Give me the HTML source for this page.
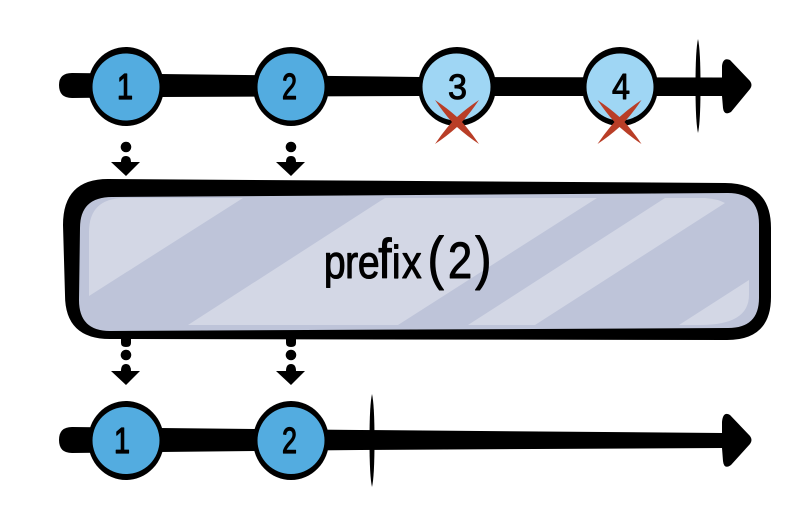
<!DOCTYPE html>
<html><head><meta charset="utf-8"><style>
html,body{margin:0;padding:0;background:#fff;width:812px;height:506px;overflow:hidden}
svg{display:block}
text{font-family:"Liberation Sans",sans-serif;fill:#000;stroke:#000;stroke-linejoin:round}
</style></head><body>
<svg width="812" height="506" viewBox="0 0 812 506" xmlns="http://www.w3.org/2000/svg">
<rect width="812" height="506" fill="#fff"/>
<!-- top line -->
<path d="M72,73 L160,74 L420,77 L722,77.500 L722,66 Q723,57 730,60 L750,81 Q753,85 750,89 L731,112 Q724,116 723,108 L722,96 L420,96 L160,97 L72,98 Q59,98 59,85 Q59,73 72,73Z" fill="#000"/>
<path d="M698,39 Q700.500,50 700.500,86 Q700.500,122 698,133 Q695.500,122 695.500,86 Q695.500,50 698,39Z" fill="#000"/>
<ellipse cx="126" cy="86.500" rx="38" ry="39.500" fill="#000"/>
<ellipse cx="126" cy="87" rx="33.500" ry="33.500" fill="#53ACE0"/>
<ellipse cx="291" cy="86.500" rx="38" ry="39.500" fill="#000"/>
<ellipse cx="291" cy="87" rx="33.500" ry="33.500" fill="#53ACE0"/>
<ellipse cx="457" cy="86.500" rx="39" ry="39.500" fill="#000"/>
<ellipse cx="456.500" cy="87" rx="34" ry="33.500" fill="#9FD6F4"/>
<ellipse cx="620" cy="86.500" rx="38" ry="39.500" fill="#000"/>
<ellipse cx="620" cy="87" rx="33.500" ry="33.500" fill="#9FD6F4"/>
<text x="117" y="99" font-size="36" textLength="16" lengthAdjust="spacingAndGlyphs" stroke-width="1.300">1</text>
<text x="282" y="99" font-size="36" textLength="15" lengthAdjust="spacingAndGlyphs" stroke-width="1.200">2</text>
<text x="448" y="99" font-size="35" textLength="19" lengthAdjust="spacingAndGlyphs" stroke-width="1">3</text>
<text x="612" y="99" font-size="36" textLength="18" lengthAdjust="spacingAndGlyphs" stroke-width="1">4</text>
<!-- red crosses -->
<g fill="#B93E27">
<path d="M435,100 Q447,108 457,117 Q467,108 479,100 Q471,112 462,122 Q471,132 479,144 Q467,136 457,127 Q447,136 435,144 Q443,132 452,122 Q443,112 435,100Z"/>
<path d="M597.500,100 Q609.500,108 619.500,117 Q629.500,108 641.500,100 Q633.500,112 624.500,122 Q633.500,132 641.500,144 Q629.500,136 619.500,127 Q609.500,136 597.500,144 Q605.500,132 614.500,122 Q605.500,112 597.500,100Z"/>
</g>
<!-- dotted arrows -->
<g fill="#000">
<circle cx="126" cy="147" r="5.300"/><path d="M121,162 Q121,156 126,156 Q131,156 131,162 L140,162 L126,176 L111,162Z"/>
<circle cx="291" cy="147" r="5.300"/><path d="M286,162 Q286,156 291,156 Q296,156 296,162 L305,162 L291,176 L276,162Z"/>
<path d="M121,335 H131 V343 Q131,347 126,347 Q121,347 121,343Z"/>
<circle cx="126" cy="355" r="5.300"/><path d="M121,371 Q121,364 126,364 Q131,364 131,371 L140,371 L126,385 L111,371Z"/>
<path d="M286,335 H296 V343 Q296,347 291,347 Q286,347 286,343Z"/>
<circle cx="291" cy="355" r="5.300"/><path d="M286,371 Q286,364 291,364 Q296,364 296,371 L305,371 L291,385 L276,371Z"/>
</g>
<!-- box -->
<path d="M108,179 L725,183 Q771,183 771,228 L771,297 Q771,340 727,340 L110,339 Q65,339 65,295 L63,225 Q63,179 108,179Z" fill="#000"/>
<path d="M112,197 L728,193 Q759,193 759,224 L759,298 Q759,328 728,328 L110,331 Q79,331 79,300 L80,228 Q80,197 112,197Z" fill="#BEC4D9"/>
<g fill="#D3D7E5">
<path d="M89,296 L89,232 Q89,198 125,198 L243,198Z"/>
<path d="M188,325 L385,198 L597,198 L398,325Z"/>
<path d="M468,325 L665,198 L705,198 Q718,199 725,203 L535,325Z"/>
<path d="M749,280 L749,295 Q749,325 700,325 L679,325Z"/>
</g>
<text transform="scale(.85,1)" y="278" font-size="46" stroke-width="1.100"><tspan x="381">p</tspan><tspan x="406">r</tspan><tspan x="421">e</tspan><tspan x="445" font-size="56">f</tspan><tspan x="461">i</tspan><tspan x="473">x</tspan><tspan x="503" font-size="58">(</tspan><tspan x="527" font-size="51">2</tspan><tspan x="559" font-size="58">)</tspan></text>
<!-- bottom line -->
<path d="M72,427 L160,428 L360,430 L722,433 L722,422 Q723,411 730,415 L750,436 Q753,440 750,444 L731,465 Q724,470 723,461 L722,448 L360,450 L160,452 L72,453 Q59,453 59,440 Q59,427 72,427Z" fill="#000"/>
<path d="M372,394 Q374.500,405 374.500,440.500 Q374.500,476 372,487 Q369.500,476 369.500,440.500 Q369.500,405 372,394Z" fill="#000"/>
<ellipse cx="126" cy="440.500" rx="38" ry="39.500" fill="#000"/>
<ellipse cx="126" cy="440.500" rx="33.500" ry="33.500" fill="#53ACE0"/>
<ellipse cx="291" cy="440.500" rx="38" ry="39.500" fill="#000"/>
<ellipse cx="291" cy="440.500" rx="33.500" ry="33.500" fill="#53ACE0"/>
<text x="114" y="453" font-size="36" textLength="16" lengthAdjust="spacingAndGlyphs" stroke-width="1.300">1</text>
<text x="282" y="453" font-size="36" textLength="15" lengthAdjust="spacingAndGlyphs" stroke-width="1.200">2</text>
</svg>
</body></html>
